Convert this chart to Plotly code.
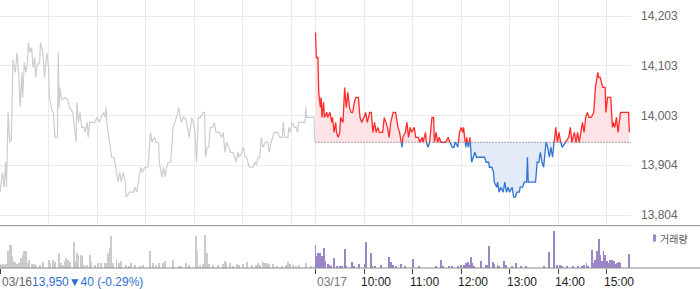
import plotly.graph_objects as go

# ---------------- data ----------------
# minutes since 03/16 09:00 (03/16 session 0..390, 03/17 session 390..780)
prev_min = [0,3,5,7,8,10,12,14,16,19,21,23,25,27,28,30,32,34,35,37,39,41,43,44,46,49,50,53,55,58,60,61,64,66,68,71,72,73,74,76,80,84,86,90,91,94,95,97,99,101,104,105,108,109,111,117,120,123,125,128,130,131,132,138,141,143,146,148,150,152,155,156,160,165,167,169,172,174,176,179,183,186,188,191,193,196,197,200,202,204,206,208,211,212,214,218,221,224,227,230,232,234,237,239,241,243,245,248,251,253,254,256,258,260,263,265,267,271,274,276,278,280,283,285,288,290,292,294,296,299,301,303,305,308,311,313,315,317,319,321,323,325,328,331,333,335,337,339,343,346,349,350,352,356,357,359,361,364,366,368,369,374,377,378,379,385,388,389]
prev_price = [13850,13890,13860,13910,13860,14010,13950,13955,14115,14090,14130,14090,14020,14090,14040,14110,14090,14110,14150,14130,14140,14100,14120,14080,14105,14110,14150,14130,14080,14130,14100,14040,14015,14010,13960,13960,14130,14020,14060,14035,14040,14035,14020,14010,13995,13950,14030,13990,14010,13980,13980,13970,13990,13960,13990,13990,14000,13990,14000,14010,14000,14020,13990,13920,13920,13900,13870,13890,13870,13890,13870,13840,13850,13850,13860,13850,13880,13900,13890,13900,13900,13970,13950,13960,13950,13950,13910,13880,13900,13880,13900,13910,13910,13930,13980,14000,14020,13990,14000,13995,13980,13960,14000,13990,13970,13910,14000,14000,14010,14010,13920,13940,13940,13980,13980,13990,13970,13970,13960,13970,13930,13950,13940,13930,13930,13920,13910,13930,13920,13930,13940,13920,13920,13900,13900,13900,13910,13905,13920,13920,13960,13940,13950,13950,13930,13950,13960,13970,13970,13960,13960,13990,13960,13960,13980,13970,13990,13980,13980,13970,13990,13990,13990,14020,14000,14000,14000,13950]

today_min = [390,391,393,394,396,397,398,400,401,404,405,408,410,411,413,415,416,418,420,421,424,426,428,430,432,434,436,438,440,443,445,447,450,452,454,457,459,461,463,465,467,469,473,475,477,479,481,483,486,489,492,494,497,498,501,503,505,507,509,512,514,517,519,522,523,526,527,529,531,534,536,537,539,541,543,545,548,551,554,556,559,561,563,566,568,570,572,573,575,576,577,579,581,582,583,585,587,589,592,596,599,601,604,605,608,610,611,614,615,617,619,622,624,626,628,630,633,635,637,639,642,643,646,648,651,652,653,658,662,664,666,668,670,672,675,677,679,681,683,685,687,689,691,693,695,699,703,705,707,710,712,714,716,718,720,722,724,726,728,731,734,736,739,740,742,745,748,749,751,755,757,758,760,762,764,767,772,777,778]
today_price = [14170,14120,14120,14050,14020,14040,14000,14030,14000,14010,14000,14010,13990,14000,13970,13990,13970,13960,13970,14000,13990,14060,14020,14050,14020,14010,14010,14030,14040,14040,14000,13990,14000,14010,13990,14010,14010,13970,13990,13970,13980,13970,13970,14000,13990,13980,13960,13990,14010,14010,13980,13970,13940,13960,13970,13990,13960,13980,13970,13980,13960,13960,13950,13960,13950,13970,13950,13940,13950,14000,14000,13950,13970,13950,13960,13950,13950,13950,13960,13950,13940,13940,13950,13940,13970,13980,13970,13980,13950,13940,13960,13940,13960,13930,13910,13920,13930,13920,13920,13920,13920,13910,13910,13900,13900,13890,13870,13860,13870,13850,13860,13850,13870,13850,13860,13850,13860,13840,13840,13850,13850,13860,13860,13870,13870,13920,13870,13870,13870,13910,13910,13930,13910,13900,13950,13940,13920,13940,13920,13950,13980,13950,13970,13950,13940,13950,13960,13980,13950,13970,13950,13970,13950,13970,13990,13970,14000,14010,14000,14000,14010,14060,14090,14080,14080,14060,14060,14010,14040,14040,13980,13990,13980,14000,13970,14010,14010,14010,13970]

prev_vol_min = [0,2,4,6,8,10,12,14,15,16,19,21,23,26,28,30,32,34,36,39,42,45,49,53,60,62,66,68,73,75,78,80,82,84,87,91,93,95,97,100,101,104,108,111,113,117,121,125,130,132,134,136,137,140,144,147,150,156,160,162,167,173,177,186,189,193,197,202,204,214,221,224,230,234,242,244,247,251,254,256,258,263,269,276,278,280,284,288,293,296,300,305,312,317,319,321,325,327,330,333,337,343,348,353,356,358,362,366,370,378,385,389]
prev_vol = [4000,3000,4000,3000,4000,17000,23000,23000,12000,7000,6000,4000,5000,10000,13000,17000,17000,5000,8000,4000,4000,3000,3000,6000,8000,5000,8000,6000,15000,5000,3000,7000,10000,8000,6000,26000,7000,15000,13000,13000,12000,3000,3000,13000,6000,3000,5000,5000,5000,5000,15000,20000,32000,5000,9000,5000,7000,3000,2000,5000,3000,2000,3000,17000,5000,3000,5000,5000,7000,8000,2000,2000,5000,3000,32000,17000,3000,4000,33000,15000,4000,3000,3000,4000,7000,5000,5000,2000,4000,3000,4000,6000,3000,3000,5000,3000,6000,5000,5000,4000,4000,2000,2000,3000,6000,4000,3000,2000,3000,5000,2000,2000]

today_vol_min = [390,391,393,395,396,398,400,402,406,407,409,413,416,420,423,426,428,435,438,444,451,452,453,459,460,463,471,481,483,486,490,496,501,510,511,518,539,545,548,555,559,566,570,573,574,576,578,580,582,584,586,594,601,603,605,609,611,615,617,623,626,633,638,644,650,673,679,685,689,692,695,701,708,714,720,722,725,727,732,734,736,738,739,740,742,744,746,748,750,751,754,755,757,759,761,763,765,767,778]
today_vol = [23000,12000,15000,15000,15000,12000,20000,7000,4000,3000,2000,10000,2000,2000,2000,19000,2000,6000,2000,4000,4000,26000,6000,15000,2000,2000,3000,11000,6000,3000,2000,4000,2000,9000,6000,2000,2000,8000,2000,2000,2000,2000,3000,2000,3000,5000,6000,3000,11000,5000,2000,7000,3000,3000,22000,6000,4000,3000,2000,7000,3000,2000,5000,2000,2000,2000,16000,37000,3000,3000,2000,2000,2000,2000,2000,3000,5000,2000,18000,5000,8000,17000,13000,29000,13000,7000,17000,13000,7000,5000,8000,7000,8000,7000,4000,5000,6000,5000,14000]

prev_close = 13950      # 03/16 close (base line of 03/17)
prev_change = -40
prev_change_pct = -0.29

y_tick_vals = [13804, 13904, 14003, 14103, 14203]
y_tick_text = ["13,804", "13,904", "14,003", "14,103", "14,203"]
grid_minutes = [0, 60, 120, 180, 240, 300, 360, 390, 450, 510, 570, 630, 690, 750]
label_minutes = [390, 450, 510, 570, 630, 690, 750]
label_text = ["03/17", "10:00", "11:00", "12:00", "13:00", "14:00", "15:00"]

# ---------------- styles ----------------
RED = "#ff2b2b"
BLUE = "#2f74d0"
RED_FILL = "#fde3e5"
BLUE_FILL = "#e3ebf8"
GRAY_LINE = "#cbcdd0"
GRID = "#ebebeb"
FONT = "Liberation Sans, Arial, Noto Sans CJK KR, sans-serif"

# split today's series at the base line
pts = []
for i in range(len(today_min)):
    if i > 0:
        y0, y1 = today_price[i - 1], today_price[i]
        if (y0 - prev_close) * (y1 - prev_close) < 0:
            xc = today_min[i - 1] + (prev_close - y0) / (y1 - y0) * (today_min[i] - today_min[i - 1])
            pts.append((xc, prev_close))
    pts.append((today_min[i], today_price[i]))
px_ = [p[0] for p in pts]
py_ = [p[1] for p in pts]
upper = [max(v, prev_close) for v in py_]
lower = [min(v, prev_close) for v in py_]
red_y = [v if v >= prev_close else None for v in py_]
blue_y = [v if v <= prev_close else None for v in py_]
base = [prev_close] * len(px_)

fig = go.Figure()
fig.add_trace(go.Scatter(x=px_, y=base, mode="lines", line=dict(width=0), hoverinfo="skip", showlegend=False))
fig.add_trace(go.Scatter(x=px_, y=upper, mode="lines", line=dict(width=0), fill="tonexty",
                         fillcolor=RED_FILL, hoverinfo="skip", showlegend=False))
fig.add_trace(go.Scatter(x=px_, y=base, mode="lines", line=dict(width=0), hoverinfo="skip", showlegend=False))
fig.add_trace(go.Scatter(x=px_, y=lower, mode="lines", line=dict(width=0), fill="tonexty",
                         fillcolor=BLUE_FILL, hoverinfo="skip", showlegend=False))

fig.add_trace(go.Scatter(x=prev_min, y=prev_price, mode="lines",
                         line=dict(color=GRAY_LINE, width=1.2), showlegend=False))
fig.add_trace(go.Scatter(x=px_, y=blue_y, mode="lines", connectgaps=False,
                         line=dict(color=BLUE, width=1.3), showlegend=False))
fig.add_trace(go.Scatter(x=px_, y=red_y, mode="lines", connectgaps=False,
                         line=dict(color=RED, width=1.3), showlegend=False))

fig.add_trace(go.Bar(x=prev_vol_min, y=prev_vol, width=1.2, marker=dict(color="#cacbce", line=dict(width=0)),
                     xaxis="x2", yaxis="y2", showlegend=False))
fig.add_trace(go.Bar(x=today_vol_min, y=today_vol, width=1.2, marker=dict(color="#9a86c9", line=dict(width=0)),
                     xaxis="x2", yaxis="y2", showlegend=False))

W, H = 700, 289
L, R, T, B = 0, 69, 0, 21
plot_w = W - L - R
plot_h = H - T - B
split_frac = (plot_h - 225.7) / plot_h

fig.update_layout(
    width=W, height=H,
    margin=dict(l=L, r=R, t=T, b=B, pad=0),
    paper_bgcolor="white", plot_bgcolor="white",
    font=dict(family=FONT, size=12, color="#555"),
    bargap=0,
    xaxis=dict(domain=[0, 1], range=[0, 780], anchor="y", tickvals=grid_minutes, showticklabels=False,
               ticks="", showgrid=True, gridcolor=GRID, gridwidth=1, zeroline=False, showline=False),
    yaxis=dict(domain=[split_frac, 1], range=[13782.8, 14235.3], side="right", tickvals=y_tick_vals,
               ticktext=y_tick_text, ticks="", ticklabelstandoff=9, showgrid=True, gridcolor=GRID,
               gridwidth=1, zeroline=False, showline=False, tickfont=dict(size=12, color="#666")),
    xaxis2=dict(domain=[0, 1], range=[0, 780], anchor="y2", tickvals=[0] + label_minutes,
                showticklabels=False, ticks="outside", ticklen=5, tickwidth=1, tickcolor="#444",
                showgrid=False, zeroline=False, showline=False),
    yaxis2=dict(domain=[0, split_frac - 0.002], range=[0, 42100], showgrid=False, showticklabels=False,
                zeroline=False, showline=False),
)

right_ext = W / plot_w
fig.add_shape(type="line", xref="x", yref="y", x0=390, x1=780, y0=prev_close, y1=prev_close,
              line=dict(color="#555", width=1, dash="1px,2px"))
fig.add_shape(type="line", xref="paper", yref="paper", x0=0, x1=right_ext, y0=split_frac, y1=split_frac,
              line=dict(color="#8a8a8a", width=1))
fig.add_shape(type="line", xref="paper", yref="paper", x0=0, x1=right_ext, y0=0, y1=0,
              line=dict(color="#8a8a8a", width=1))

# legend mark for volume
fig.add_shape(type="rect", xref="paper", yref="paper",
              x0=653 / plot_w, x1=656 / plot_w, y0=(plot_h - 241.5) / plot_h, y1=(plot_h - 234.5) / plot_h,
              fillcolor="#9a86c9", line=dict(width=0))
fig.add_annotation(xref="paper", yref="paper", x=658 / plot_w, y=(plot_h - 238) / plot_h,
                   xanchor="left", yanchor="middle", text="거래량", showarrow=False,
                   font=dict(family="Noto Sans CJK KR", size=10, color="#555"))

label_y = (plot_h - 281.7) / plot_h
arrow = "▼" if prev_change < 0 else "▲"
fig.add_annotation(xref="x", yref="paper", x=0, y=label_y, xanchor="left", yanchor="middle", showarrow=False,
                   text=("<span style='color:#666'>03/16</span>"
                         f"<span style='color:#2f6fd0'>{prev_close:,}{arrow}{abs(prev_change)} ({prev_change_pct:.2f}%)</span>"),
                   font=dict(size=12))
for m, t in zip(label_minutes, label_text):
    fig.add_annotation(xref="x", yref="paper", x=m, y=label_y, xanchor="left", yanchor="middle",
                       xshift=-1 if t.startswith("03") else -5, showarrow=False, text=t,
                       font=dict(size=12, color="#777" if t.startswith("03") else "#222"))

fig.write_html("out.html", config={"displayModeBar": False})
